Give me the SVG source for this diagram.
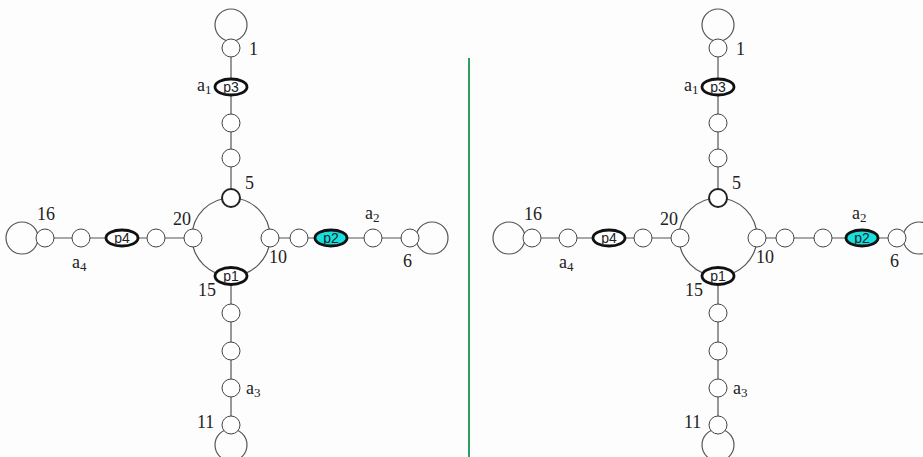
<svg xmlns="http://www.w3.org/2000/svg" width="923" height="457" viewBox="0 0 923 457">
<style>
.e{stroke:#555;stroke-width:1.2;fill:none}
.n{fill:#fff;stroke:#444;stroke-width:1}
.b{fill:#fff;stroke:#222;stroke-width:2}
.p{fill:#fff;stroke:#111;stroke-width:2.8}
.c{fill:#18dede;stroke:#111;stroke-width:2.8}
.t{font-family:"Liberation Serif","Times New Roman",serif;font-size:18px;fill:#222}
.s{font-size:13px}
.q{font-family:"Liberation Sans",Arial,sans-serif;font-size:14px;fill:#222;text-anchor:middle}
</style>
<rect width="923" height="457" fill="#fdfdfd"/>
<line x1="469" y1="58" x2="469" y2="457" stroke="#2e9d62" stroke-width="2"/>

<g id="connectors">
  <!-- left diagram -->
  <line class="e" x1="231" y1="48" x2="231" y2="198"/>
  <line class="e" x1="231" y1="276" x2="231" y2="425"/>
  <line class="e" x1="45" y1="238" x2="193" y2="238"/>
  <line class="e" x1="270" y1="238" x2="410" y2="238"/>
  <circle class="e" cx="231" cy="237" r="39"/>
  <circle class="e" cx="231" cy="25" r="16"/>
  <circle class="e" cx="231" cy="445" r="16"/>
  <circle class="e" cx="22" cy="238" r="16"/>
  <circle class="e" cx="432" cy="238" r="16"/>
  <!-- right diagram -->
  <line class="e" x1="718" y1="48" x2="718" y2="198"/>
  <line class="e" x1="718" y1="276" x2="718" y2="425"/>
  <line class="e" x1="532" y1="238" x2="680" y2="238"/>
  <line class="e" x1="757" y1="238" x2="897" y2="238"/>
  <circle class="e" cx="718" cy="237" r="39"/>
  <circle class="e" cx="718" cy="25" r="16"/>
  <circle class="e" cx="718" cy="445" r="16"/>
  <circle class="e" cx="509" cy="238" r="16"/>
  <circle class="e" cx="919" cy="238" r="16"/>
</g>

<!-- left diagram nodes -->
<g id="L-n1"><circle class="n" cx="231" cy="48" r="9"/><text class="t" x="249" y="55">1</text></g>
<g id="L-p3"><ellipse class="p" cx="231" cy="87" rx="16" ry="8"/><text class="q" x="231" y="92">p3</text><text class="t" x="197" y="91">a<tspan class="s" dy="3">1</tspan></text></g>
<g id="L-n2"><circle class="n" cx="231" cy="123" r="9"/></g>
<g id="L-n3"><circle class="n" cx="231" cy="158" r="9"/></g>
<g id="L-n5"><circle class="b" cx="231" cy="198" r="9"/><text class="t" x="245" y="189">5</text></g>
<g id="L-n20"><circle class="n" cx="193" cy="238" r="9"/><text class="t" x="173" y="225">20</text></g>
<g id="L-n10"><circle class="n" cx="270" cy="238" r="9"/><text class="t" x="269" y="263">10</text></g>
<g id="L-p1"><ellipse class="p" cx="231" cy="276" rx="16" ry="8.5"/><text class="q" x="231" y="281">p1</text><text class="t" x="198" y="296">15</text></g>
<g id="L-n12"><circle class="n" cx="231" cy="313" r="9"/></g>
<g id="L-n13"><circle class="n" cx="231" cy="351" r="9"/></g>
<g id="L-a3"><circle class="n" cx="231" cy="388" r="9"/><text class="t" x="246" y="394">a<tspan class="s" dy="3">3</tspan></text></g>
<g id="L-n11"><circle class="n" cx="231" cy="425" r="9"/><text class="t" x="197" y="428">11</text></g>
<g id="L-n16"><circle class="n" cx="45" cy="238" r="9"/><text class="t" x="37" y="220">16</text></g>
<g id="L-a4"><circle class="n" cx="81" cy="238" r="9"/><text class="t" x="72" y="268">a<tspan class="s" dy="3">4</tspan></text></g>
<g id="L-p4"><ellipse class="p" cx="122" cy="238" rx="16" ry="8"/><text class="q" x="122" y="243">p4</text></g>
<g id="L-n19"><circle class="n" cx="156" cy="238" r="9"/></g>
<g id="L-n9"><circle class="n" cx="299" cy="238" r="9"/></g>
<g id="L-p2"><ellipse class="c" cx="331" cy="238" rx="16" ry="8"/><text class="q" x="331" y="243">p2</text></g>
<g id="L-a2"><circle class="n" cx="373" cy="238" r="9"/><text class="t" x="365" y="219">a<tspan class="s" dy="3">2</tspan></text></g>
<g id="L-n6"><circle class="n" cx="410" cy="238" r="9"/><text class="t" x="403" y="267">6</text></g>

<!-- right diagram nodes -->
<g id="R-n1"><circle class="n" cx="718" cy="48" r="9"/><text class="t" x="736" y="55">1</text></g>
<g id="R-p3"><ellipse class="p" cx="718" cy="87" rx="16" ry="8"/><text class="q" x="718" y="92">p3</text><text class="t" x="684" y="91">a<tspan class="s" dy="3">1</tspan></text></g>
<g id="R-n2"><circle class="n" cx="718" cy="123" r="9"/></g>
<g id="R-n3"><circle class="n" cx="718" cy="158" r="9"/></g>
<g id="R-n5"><circle class="b" cx="718" cy="198" r="9"/><text class="t" x="732" y="189">5</text></g>
<g id="R-n20"><circle class="n" cx="680" cy="238" r="9"/><text class="t" x="660" y="225">20</text></g>
<g id="R-n10"><circle class="n" cx="757" cy="238" r="9"/><text class="t" x="756" y="263">10</text></g>
<g id="R-p1"><ellipse class="p" cx="718" cy="276" rx="16" ry="8.5"/><text class="q" x="718" y="281">p1</text><text class="t" x="685" y="296">15</text></g>
<g id="R-n12"><circle class="n" cx="718" cy="313" r="9"/></g>
<g id="R-n13"><circle class="n" cx="718" cy="351" r="9"/></g>
<g id="R-a3"><circle class="n" cx="718" cy="388" r="9"/><text class="t" x="733" y="394">a<tspan class="s" dy="3">3</tspan></text></g>
<g id="R-n11"><circle class="n" cx="718" cy="425" r="9"/><text class="t" x="684" y="428">11</text></g>
<g id="R-n16"><circle class="n" cx="532" cy="238" r="9"/><text class="t" x="524" y="220">16</text></g>
<g id="R-a4"><circle class="n" cx="568" cy="238" r="9"/><text class="t" x="559" y="268">a<tspan class="s" dy="3">4</tspan></text></g>
<g id="R-p4"><ellipse class="p" cx="609" cy="238" rx="16" ry="8"/><text class="q" x="609" y="243">p4</text></g>
<g id="R-n19"><circle class="n" cx="643" cy="238" r="9"/></g>
<g id="R-n9"><circle class="n" cx="785" cy="238" r="9"/></g>
<g id="R-n8"><circle class="n" cx="823" cy="238" r="9"/></g>
<g id="R-p2"><ellipse class="c" cx="862" cy="238" rx="16" ry="8"/><text class="q" x="862" y="243">p2</text><text class="t" x="852" y="219">a<tspan class="s" dy="3">2</tspan></text></g>
<g id="R-n6"><circle class="n" cx="897" cy="238" r="9"/><text class="t" x="890" y="267">6</text></g>
</svg>
